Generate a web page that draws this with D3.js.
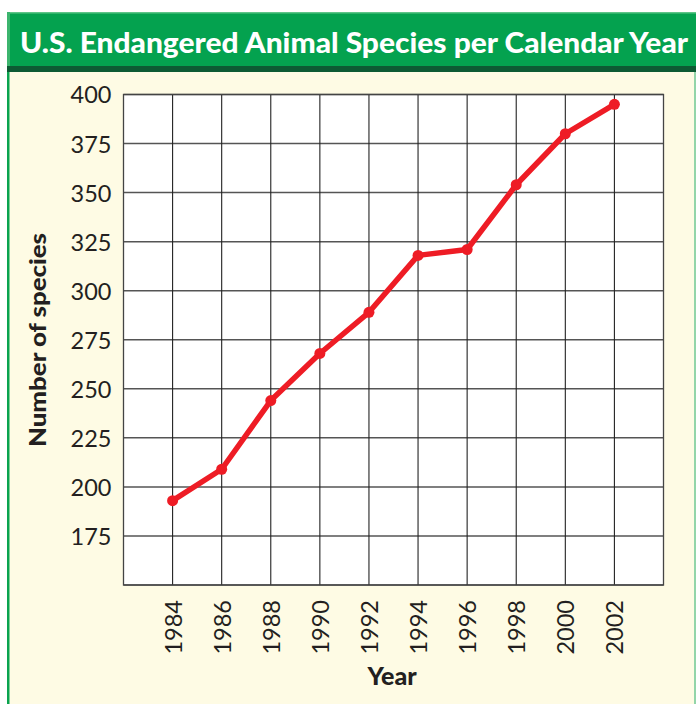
<!DOCTYPE html>
<html><head><meta charset="utf-8">
<script src="https://cdn.jsdelivr.net/npm/d3@7"></script>
<style>html,body{margin:0;padding:0;background:#fff;}svg{display:block;}</style>
</head><body>
<script>
const years = [1984, 1986, 1988, 1990, 1992, 1994, 1996, 1998, 2000, 2002];
const species = [193, 209, 244, 268, 289, 318, 321, 354, 380, 395];
const yTicks = [175, 200, 225, 250, 275, 300, 325, 350, 375, 400];
const yGrid = [150, 175, 200, 225, 250, 275, 300, 325, 350, 375, 400];
const title = "U.S. Endangered Animal Species per Calendar Year";
const xTitle = "Year";
const yTitle = "Number of species";

(function () {
const W = 696, H = 704;
const svg = d3.select("body").append("svg").attr("width", W).attr("height", H);

// frame
svg.append("rect").attr("x", 7).attr("y", 12).attr("width", W - 7).attr("height", H - 12).attr("fill", "#fefbe4");
svg.append("rect").attr("x", 7).attr("y", 12).attr("width", 2.5).attr("height", H - 12).attr("fill", "#0aa34f");
svg.append("rect").attr("x", 694).attr("y", 12).attr("width", 2).attr("height", H - 12).attr("fill", "#93d5a9");
// title bar
svg.append("rect").attr("x", 7).attr("y", 12).attr("width", W - 7).attr("height", 55).attr("fill", "#04a24f");
svg.append("rect").attr("x", 7).attr("y", 12).attr("width", W - 7).attr("height", 1.5).attr("fill", "#5ec588");
svg.append("rect").attr("x", 7).attr("y", 12).attr("width", 3).attr("height", 55).attr("fill", "#3cb56e");
svg.append("rect").attr("x", 7).attr("y", 66).attr("width", W - 7).attr("height", 6).attr("fill", "#0d5a33");
svg.append("text").attr("x", 20).attr("y", 53)
  .attr("font-family", "Lato").attr("font-weight", 900).attr("font-size", 29)
  .attr("fill", "#fff").attr("textLength", 668).attr("lengthAdjust", "spacingAndGlyphs")
  .text(title);

const pL = 123.5, pR = 663.5, pT = 94.5, pB = 585;
const x = d3.scaleLinear().domain([1982, 2004]).range([pL, pR]);
const y = d3.scaleLinear().domain([150, 400]).range([pB, pT]);

const g = svg.append("g");
g.append("rect").attr("x", pL).attr("y", pT).attr("width", pR - pL).attr("height", pB - pT).attr("fill", "#fff");

// horizontal grid
g.selectAll("line.h").data(yGrid).join("line").attr("class", "h")
  .attr("x1", pL).attr("x2", pR).attr("y1", d => y(d)).attr("y2", d => y(d))
  .attr("stroke", "#555").attr("stroke-width", 1.5);
// vertical grid
g.selectAll("line.v").data(years).join("line").attr("class", "v")
  .attr("x1", d => x(d)).attr("x2", d => x(d)).attr("y1", pT).attr("y2", pB)
  .attr("stroke", "#222").attr("stroke-width", 1.1);
g.append("rect").attr("x", pL).attr("y", pT).attr("width", pR - pL).attr("height", pB - pT)
  .attr("fill", "none").attr("stroke", "#444").attr("stroke-width", 1.3);

// y axis labels
const yAxis = d3.axisLeft(y).tickValues(yTicks).tickSize(0).tickPadding(12);
const ya = svg.append("g").attr("transform", `translate(${pL},0)`).call(yAxis);
ya.select(".domain").remove();
ya.selectAll("text").attr("font-family", "Lato").attr("font-size", 23.5).attr("fill", "#231f20")
  .attr("dy", "0.36em");

// x axis labels (rotated)
const xAxis = d3.axisBottom(x).tickValues(years).tickSize(0).tickFormat(d3.format("d"));
const xa = svg.append("g").attr("transform", `translate(0,${pB})`).call(xAxis);
xa.select(".domain").remove();
xa.selectAll("text").attr("font-family", "Lato").attr("font-size", 23.5).attr("fill", "#231f20")
  .attr("transform", "rotate(-90)").attr("text-anchor", "end")
  .attr("x", -15).attr("y", 0).attr("dy", "0.36em");

// axis titles
svg.append("text").attr("x", 392).attr("y", 685).attr("text-anchor", "middle")
  .attr("font-family", "Lato").attr("font-weight", 900).attr("font-size", 25).attr("fill", "#231f20")
  .text(xTitle);
svg.append("text").attr("transform", "translate(46,340) rotate(-90)").attr("text-anchor", "middle")
  .attr("font-family", "Lato").attr("font-weight", 900).attr("font-size", 23).attr("fill", "#231f20")
  .attr("textLength", 214).attr("lengthAdjust", "spacingAndGlyphs")
  .text(yTitle);

// line
const data = years.map((yr, i) => ({yr, v: species[i]}));
svg.append("path").datum(data)
  .attr("d", d3.line().x(d => x(d.yr)).y(d => y(d.v)))
  .attr("fill", "none").attr("stroke", "#ee1c25").attr("stroke-width", 5.5).attr("stroke-linejoin", "round");
svg.selectAll("circle.pt").data(data).join("circle").attr("class", "pt")
  .attr("cx", d => x(d.yr)).attr("cy", d => y(d.v)).attr("r", 5.5).attr("fill", "#ee1c25");
})();
</script>
</body></html>
